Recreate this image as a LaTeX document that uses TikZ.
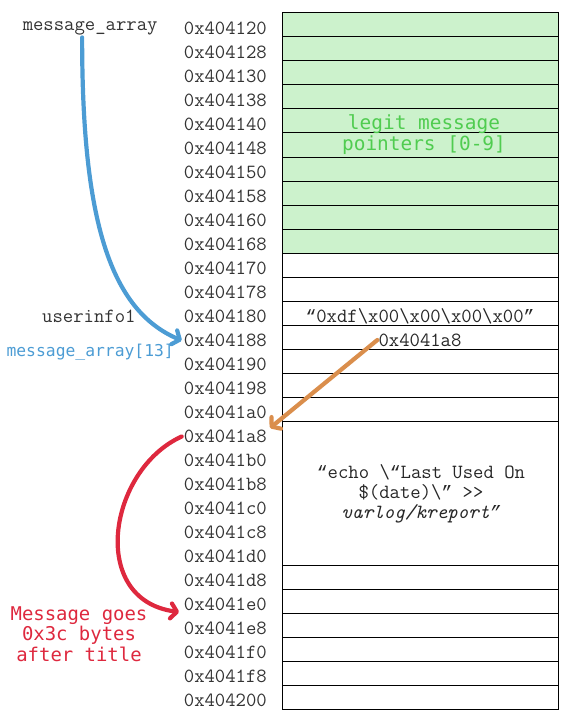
\documentclass[tikz,border=0pt]{standalone}
\usepackage{fontspec}
\newfontfamily\pixfont{DejaVu Sans Mono}
\newfontfamily\quotefont{Liberation Mono}
\usetikzlibrary{arrows.meta, positioning}
\definecolor{ptrblue}{RGB}{76,156,212}
\definecolor{ptrorange}{RGB}{218,142,76}
\definecolor{ptrred}{RGB}{222,40,62}
\definecolor{legitgreen}{RGB}{80,204,80}
\definecolor{legitfill}{RGB}{204,242,204}
\newcommand{\monotext}{\ttfamily\fontsize{20.2}{20}\selectfont}
\newcommand{\bs}{\textbackslash}
\newcommand{\oq}{{\quotefont\fontsize{18}{20}\selectfont“}}
\newcommand{\cq}{{\quotefont\fontsize{18}{20}\selectfont”}}

\begin{document}
\begin{tikzpicture}[x=1bp, y=-1bp,
  addr/.style={anchor=east, font=\monotext, text=black!80, inner sep=2bp},
  cell/.style={draw, line width=1bp, minimum width=276bp, minimum height=24bp, inner sep=0pt},
  celltext/.style={font=\monotext, text=black!85, align=center, inner sep=1bp},
  pointer/.style={line width=4.2bp, line cap=round,
    -{Straight Barb[length=6bp, width=15bp, round]}}]
  \useasboundingbox (0,0) rectangle (571,722);

  % Memory cells
  \foreach \i in {0,...,9}
    \node[cell, fill=legitfill] (c\i) at (420, {25+24*\i}) {};
  \foreach \i in {10,...,16,23,24,25,26,27,28}
    \node[cell] (c\i) at (420, {25+24*\i}) {};
  \node[cell, minimum height=144bp] (big) at (420, 493) {};

  % Addresses
  \foreach \a [count=\i from 0] in {120,128,130,138,140,148,150,158,160,168,
      170,178,180,188,190,198,1a0,1a8,1b0,1b8,1c0,1c8,1d0,1d8,1e0,1e8,1f0,1f8,200}
    \node[addr] (addr\i) at (269, {28.5+24*\i}) {0x404\a};

  % Cell contents
  \node[font=\pixfont\fontsize{19.5}{21}\selectfont, text=legitgreen, align=center]
    (legit) at (424, 134.5) {legit message\\pointers [0-9]};
  \node[celltext] (title) at (420, 316) {\oq0xdf\bs x00\bs x00\bs x00\bs x00\cq};
  \node[celltext] (ptr) at (420, 340) {0x4041a8};
  \node[celltext] (cmd) at (421, 494)
    {\oq echo \bs\oq Last Used On\\\$(date)\bs\cq{} >>\\{\itshape varlog/kreport\cq}};

  % Side labels
  \node[addr, left=22bp of addr0] (marr) {message\_array};
  \node[addr, left=44bp of addr12] (uinfo) {userinfo1};
  \node[anchor=east, inner sep=2bp, font=\pixfont\fontsize{16.4}{18}\selectfont,
    text=ptrblue] (marr13) at (176, 352) {message\_array[13]};
  \node[font=\pixfont\fontsize{19}{20.5}\selectfont, text=ptrred, align=center]
    (note) at (79, 634) {Message goes\\0x3c bytes\\after title};

  % Pointers
  \coordinate (hit) at (270, 428);
  \coordinate (msg) at (179, 612);
  \draw[pointer, ptrblue] ([xshift=-8bp]marr.south)
    .. controls (82, 220) and (110, 310) .. (addr13.west);
  \draw[pointer, ptrorange] (ptr.west) -- (hit);
  \draw[pointer, ptrred] (addr17.west)
    .. controls (108, 470) and (88, 600) .. (msg);
\end{tikzpicture}
\end{document}
